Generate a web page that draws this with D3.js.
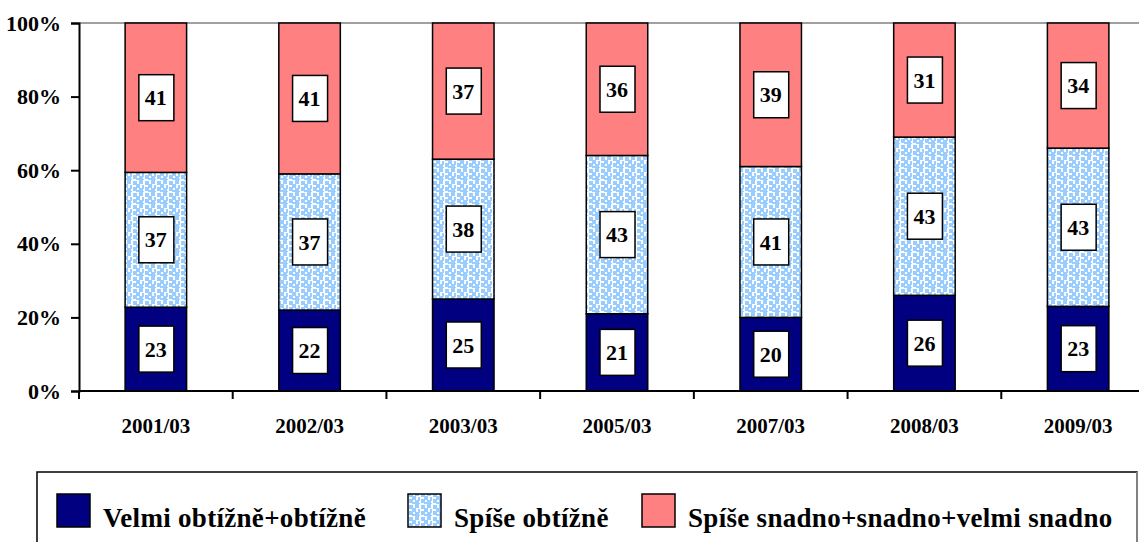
<!DOCTYPE html>
<html><head><meta charset="utf-8">
<script src="https://cdn.jsdelivr.net/npm/d3@7"></script>
<style>body{margin:0;background:#fff}svg{display:block}</style>
</head><body>
<script>
const categories = ["2001/03","2002/03","2003/03","2005/03","2007/03","2008/03","2009/03"];
const seriesNames = ["Velmi obtížně+obtížně","Spíše obtížně","Spíše snadno+snadno+velmi snadno"];
const hard = [23,22,25,21,20,26,23];
const ratherHard = [37,37,38,43,41,43,43];
const easy = [41,41,37,36,39,31,34];
const yTicks = [0,0.2,0.4,0.6,0.8,1];

(function(){
const W=1139,H=542;
const svg=d3.select("body").append("svg").attr("width",W).attr("height",H);
const defs=svg.append("defs");
const pat=defs.append("pattern").attr("id","dots").attr("patternUnits","userSpaceOnUse").attr("width",12).attr("height",12);
pat.append("rect").attr("width",12).attr("height",12).attr("fill","#fff");
[[1,1],[7,0],[4,4],[10,5],[1,7],[7,8],[4,10],[10,11]].forEach(p=>pat.append("rect").attr("x",p[0]).attr("y",p[1]).attr("width",4).attr("height",4).attr("fill","#99ccff"));

const pl=79, pr=1155, pt=23, pb=391;
const x=d3.scaleBand().domain(categories).range([pl,pr]).paddingInner(0.6).paddingOuter(0.3);
const xb=d3.scaleBand().domain(categories).range([pl,pr]);
const y=d3.scaleLinear().domain([0,1]).range([pb,pt]);

const rows=categories.map((c,i)=>({cat:c,s0:hard[i],s1:ratherHard[i],s2:easy[i]}));
const stack=d3.stack().keys(["s0","s1","s2"]).offset(d3.stackOffsetExpand);
const layers=stack(rows);
const fills=["#000080","url(#dots)","#ff8080"];
const font="'Liberation Serif', 'Times New Roman', Times, 'DejaVu Serif', serif";

svg.append("line").attr("x1",pl).attr("x2",W).attr("y1",y(1)).attr("y2",y(1)).attr("stroke","#808080").attr("stroke-width",1.5);

layers.forEach((layer,k)=>{
  const g=svg.append("g");
  g.selectAll("rect").data(layer).join("rect")
    .attr("x",d=>x(d.data.cat)).attr("width",x.bandwidth())
    .attr("y",d=>y(d[1])).attr("height",d=>y(d[0])-y(d[1]))
    .attr("fill",fills[k]).attr("stroke","#000").attr("stroke-width",1.5);
  const lg=g.selectAll("g.lab").data(layer).join("g").attr("class","lab")
    .attr("transform",d=>`translate(${x(d.data.cat)+x.bandwidth()/2},${(y(d[0])+y(d[1]))/2})`);
  lg.append("rect").attr("x",-17).attr("y",-23).attr("width",35).attr("height",46).attr("fill","#fff").attr("stroke","#000").attr("stroke-width",1.5);
  lg.append("text").attr("text-anchor","middle").attr("dy","0.35em")
    .style("font-family",font).style("font-weight","bold").style("font-size","22px")
    .text(d=>d.data["s"+k]);
});

const ya=svg.append("g").attr("transform",`translate(${pl},0)`)
  .call(d3.axisLeft(y).tickValues(yTicks).tickFormat(d3.format(".0%")).tickSize(8).tickPadding(10));
ya.attr("font-family",null).attr("font-size",null);
ya.select(".domain").attr("stroke","#000").attr("stroke-width",2);
ya.selectAll(".tick line").attr("stroke","#000").attr("stroke-width",2);
ya.selectAll("text").style("font-family",font).style("font-weight","bold").style("font-size","22px").attr("fill","#000");

const xa=svg.append("g").attr("transform",`translate(0,${pb})`);
xa.append("line").attr("x1",pl).attr("x2",W).attr("stroke","#000").attr("stroke-width",2);
xa.selectAll("line.t").data(categories).join("line").attr("class","t")
  .attr("x1",d=>xb(d)).attr("x2",d=>xb(d)).attr("y1",0).attr("y2",8).attr("stroke","#000").attr("stroke-width",2);
xa.selectAll("text").data(categories).join("text")
  .attr("x",d=>xb(d)+xb.bandwidth()/2).attr("y",42).attr("text-anchor","middle")
  .style("font-family",font).style("font-weight","bold").style("font-size","21px").text(d=>d);

const lgd=svg.append("g");
lgd.append("rect").attr("x",37).attr("y",472).attr("width",1100).attr("height",90).attr("fill","#fff").attr("stroke","#000").attr("stroke-width",1.5);
lgd.append("line").attr("x1",1137).attr("x2",1137).attr("y1",472).attr("y2",H).attr("stroke","#999").attr("stroke-width",1.5);
const lx=[57,408,642];
seriesNames.forEach((n,i)=>{
  lgd.append("rect").attr("x",lx[i]).attr("y",494).attr("width",33).attr("height",33).attr("fill",fills[i]).attr("stroke","#000").attr("stroke-width",1.5);
  lgd.append("text").attr("x",lx[i]+46).attr("y",527)
    .style("font-family",font).style("font-weight","bold").style("font-size","27px").style("letter-spacing","0.3px").text(n);
});
})();
</script>
</body></html>
